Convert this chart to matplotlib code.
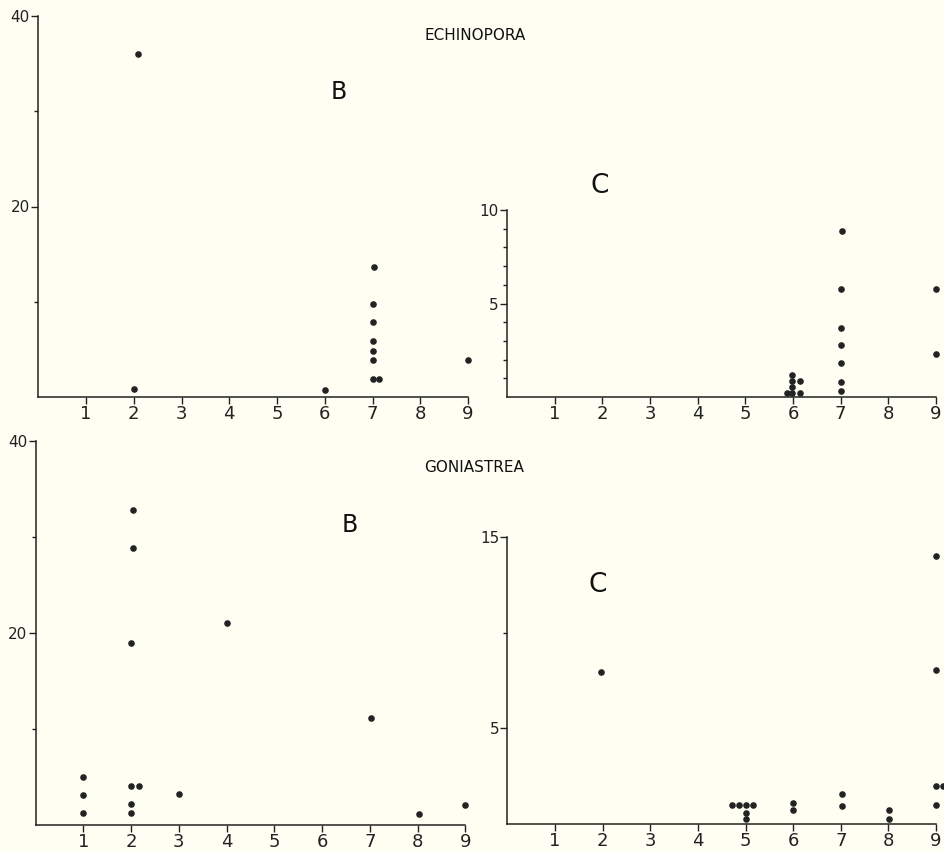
import matplotlib
matplotlib.use('Agg')
import matplotlib.pyplot as plt

# data
x_ticks = [1, 2, 3, 4, 5, 6, 7, 8, 9]

echi_b_x = [2.08, 2.0, 6.0, 7.03, 7.0, 7.02, 7.02, 7.02, 7.0, 7.0, 7.14, 9.0]
echi_b_y = [36.0, 0.8, 0.7, 13.6, 9.8, 7.9, 5.9, 4.8, 3.9, 1.9, 1.9, 3.9]

echi_c_x = [5.98, 5.98, 6.15, 5.98, 5.87, 5.98, 6.14,
            7.03, 7.0, 7.0, 7.0, 7.0, 7.0, 7.0, 9.0, 9.0]
echi_c_y = [1.2, 0.86, 0.86, 0.55, 0.2, 0.2, 0.2,
            8.9, 5.8, 3.7, 2.76, 1.83, 0.79, 0.34, 5.8, 2.3]

gonia_b_x = [1, 1, 1, 2.03, 2.03, 1.99, 2.0, 2.17, 2.0, 2.0, 3.0, 4.0, 7.03, 8.02, 9.0]
gonia_b_y = [5.0, 3.1, 1.3, 32.8, 28.9, 19.0, 4.1, 4.1, 2.2, 1.2, 3.2, 21.0, 11.1, 1.1, 2.1]

gonia_c_x = [1.96, 4.71, 4.87, 5.01, 5.15, 5.01, 5.01, 5.99, 5.99,
             7.03, 7.03, 8.01, 8.01, 9.0, 9.0, 9.0, 9.14, 9.0]
gonia_c_y = [7.97, 1.0, 1.0, 1.0, 1.0, 0.58, 0.25, 1.1, 0.72,
             1.56, 0.93, 0.72, 0.25, 14.0, 8.05, 1.98, 1.98, 0.98]

W, H = 944, 852
bg = '#fffef3'

fig = plt.figure(figsize=(W / 100, H / 100), dpi=100, facecolor=bg)


def make_ax(left, right, top, bottom, ymax, major, minor):
    ax = fig.add_axes([left / W, 1 - bottom / H, (right - left) / W, (bottom - top) / H])
    ax.set_facecolor(bg)
    ax.set_xlim(0, 9)
    ax.set_ylim(0, ymax)
    for s in ['top', 'right']:
        ax.spines[s].set_visible(False)
    for s in ['left', 'bottom']:
        ax.spines[s].set_linewidth(1.1)
        ax.spines[s].set_color('#222222')
    ax.set_xticks(x_ticks)
    ax.set_xticklabels([str(v) for v in x_ticks], fontsize=13)
    ax.set_yticks(major)
    ax.set_yticklabels([str(v) for v in major], fontsize=11)
    ax.set_yticks(minor, minor=True)
    ax.tick_params(axis='x', direction='out', length=5, width=1, pad=1, colors='#222222')
    ax.tick_params(axis='y', which='major', direction='out', length=5, width=1, pad=1, colors='#222222')
    ax.tick_params(axis='y', which='minor', direction='out', length=3, width=1, colors='#222222')
    return ax


ax1 = make_ax(38.3, 468, 16, 397, 40, [20, 40], [10, 30])
ax1.scatter(echi_b_x, echi_b_y, s=14, color='#222222', clip_on=False, zorder=3)

ax2 = make_ax(507, 936, 210, 397, 10, [5, 10], [1, 2, 3, 4, 6, 7, 8, 9])
ax2.scatter(echi_c_x, echi_c_y, s=14, color='#222222', clip_on=False, zorder=3)

ax3 = make_ax(35.6, 465.5, 441, 825, 40, [20, 40], [10, 30])
ax3.scatter(gonia_b_x, gonia_b_y, s=14, color='#222222', clip_on=False, zorder=3)

ax4 = make_ax(507.4, 936, 537, 824, 15, [5, 15], [10])
ax4.scatter(gonia_c_x, gonia_c_y, s=14, color='#222222', clip_on=False, zorder=3)


def label(x, y, txt, size):
    fig.text(x / W, 1 - y / H, txt, fontsize=size, ha='center', va='center', color='#111111')


label(475, 36, 'ECHINOPORA', 11)
label(474, 467, 'GONIASTREA', 11)
label(339, 92, 'B', 17)
label(350, 525, 'B', 17)
label(600, 186, 'C', 19)
label(598, 585, 'C', 19)

fig.savefig('out.png', dpi=100, facecolor=bg)
